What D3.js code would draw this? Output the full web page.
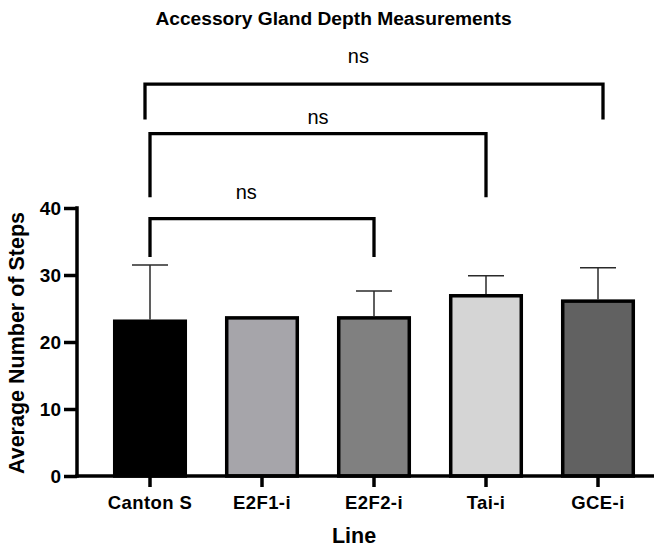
<!DOCTYPE html>
<html>
<head>
<meta charset="utf-8">
<script src="https://cdn.jsdelivr.net/npm/d3@7"></script>
<style>
  body { margin: 0; background: #fff; }
  svg { display: block; font-family: "Liberation Sans", Arial, Helvetica, sans-serif; }
</style>
</head>
<body>
<div id="chart"></div>
<script>
'use strict';

// data
var lines = ["Canton S", "E2F1-i", "E2F2-i", "Tai-i", "GCE-i"];
var means = [23.1, 23.6, 23.6, 26.9, 26.1];
var sds = [8.4, 0, 4.0, 3.0, 5.0];
var yTicks = [0, 10, 20, 30, 40];

// multiple comparisons
var compFrom = ["Canton S", "Canton S", "Canton S"];
var compTo = ["GCE-i", "Tai-i", "E2F2-i"];
var compLabel = ["ns", "ns", "ns"];

var fills = ["#000000", "#a6a5aa", "#808080", "#d5d5d5", "#616161"];

// bracket placement in y units: bar height, leg end, label baseline, label position along bracket
var bracketLayout = [
  { top: 58.5, leg: 53.2, text: 61.6, at: 0.466, spread: 5 },
  { top: 51.1, leg: 41.6, text: 52.6, at: 0.5, spread: 0 },
  { top: 38.4, leg: 32.7, text: 41.4, at: 0.43, spread: 0 }
];

var width = 667, height = 550;
var margin = { left: 77, right: 13, top: 208, bottom: 74 };
var FONT = "Liberation Sans, Arial, sans-serif";

var svg = d3.select("#chart").append("svg")
    .attr("width", width)
    .attr("height", height);

var x = d3.scaleBand()
    .domain(lines)
    .range([94, 654])
    .paddingInner(0.37)
    .paddingOuter(0.185);

var y = d3.scaleLinear()
    .domain([0, 40])
    .range([height - margin.bottom, margin.top]);

function cx(name) { return x(name) + x.bandwidth() / 2; }

var data = lines.map(function(d, i) {
  return { name: d, mean: means[i], sd: sds[i], fill: fills[i] };
});

// bars
svg.append("g")
  .selectAll("rect")
  .data(data)
  .join("rect")
    .attr("x", function(d) { return x(d.name); })
    .attr("y", function(d) { return y(d.mean); })
    .attr("width", x.bandwidth())
    .attr("height", function(d) { return y(0) - y(d.mean); })
    .attr("fill", function(d) { return d.fill; })
    .attr("stroke", "#000")
    .attr("stroke-width", 3.5);

// error bars (upper only)
var err = svg.append("g")
    .attr("stroke", "#2a2a2a")
    .attr("stroke-width", 1.5)
  .selectAll("g")
  .data(data.filter(function(d) { return d.sd > 0; }))
  .join("g");

err.append("line")
    .attr("x1", function(d) { return cx(d.name); })
    .attr("x2", function(d) { return cx(d.name); })
    .attr("y1", function(d) { return y(d.mean) - 1.75; })
    .attr("y2", function(d) { return y(d.mean + d.sd); });

err.append("line")
    .attr("x1", function(d) { return cx(d.name) - 18; })
    .attr("x2", function(d) { return cx(d.name) + 18; })
    .attr("y1", function(d) { return y(d.mean + d.sd); })
    .attr("y2", function(d) { return y(d.mean + d.sd); });

// y axis
var yAxis = svg.append("g")
    .attr("transform", "translate(" + margin.left + ",0)")
    .call(d3.axisLeft(y).tickValues(yTicks).tickSize(13).tickSizeOuter(0).tickPadding(3));
yAxis.select(".domain").attr("stroke-width", 3.5).attr("stroke", "#000")
    .attr("d", "M0," + (y(0) + 1.75) + "V" + (y(40) - 1.75));
yAxis.selectAll(".tick line").attr("stroke-width", 3.5).attr("stroke", "#000");
yAxis.selectAll(".tick text")
    .attr("x", -16)
    .attr("dy", "0.36em")
    .style("font-size", "19px")
    .style("font-weight", "bold")
    .style("font-family", FONT)
    .attr("fill", "#000");

// x axis
var xAxis = svg.append("g")
    .attr("transform", "translate(0," + y(0) + ")")
    .call(d3.axisBottom(x).tickSize(11).tickSizeOuter(0));
xAxis.select(".domain").attr("stroke-width", 3.5).attr("stroke", "#000")
    .attr("d", "M" + (margin.left - 1.75) + ",0H" + x.range()[1]);
xAxis.selectAll(".tick line").attr("stroke-width", 3.5).attr("stroke", "#000");
xAxis.selectAll(".tick text")
    .attr("y", 33)
    .attr("dy", 0)
    .style("font-size", "18.5px")
    .style("font-weight", "bold")
    .style("letter-spacing", "0.4px")
    .style("font-family", FONT)
    .attr("fill", "#000");

// significance brackets
var brackets = svg.append("g")
  .selectAll("g")
  .data(compFrom.map(function(f, i) {
    return { from: f, to: compTo[i], label: compLabel[i], lay: bracketLayout[i] };
  }))
  .join("g");

brackets.append("path")
    .attr("fill", "none")
    .attr("stroke", "#000")
    .attr("stroke-width", 3.3)
    .attr("d", function(d) {
      var x1 = cx(d.from) - d.lay.spread, x2 = cx(d.to) + d.lay.spread;
      return "M" + x1 + "," + y(d.lay.leg) + "V" + y(d.lay.top) + "H" + x2 + "V" + y(d.lay.leg);
    });

brackets.append("text")
    .attr("x", function(d) {
      var x1 = cx(d.from) - d.lay.spread, x2 = cx(d.to) + d.lay.spread;
      return x1 + (x2 - x1) * d.lay.at;
    })
    .attr("y", function(d) { return y(d.lay.text); })
    .attr("text-anchor", "middle")
    .style("font-size", "20px")
    .text(function(d) { return d.label; });

// titles
svg.append("text")
    .attr("x", width / 2)
    .attr("y", 25)
    .attr("text-anchor", "middle")
    .style("font-size", "19.2px")
    .style("font-weight", "bold")
    .text("Accessory Gland Depth Measurements");

svg.append("text")
    .attr("x", 354)
    .attr("y", 543)
    .attr("text-anchor", "middle")
    .style("font-size", "21.5px")
    .style("font-weight", "bold")
    .text("Line");

svg.append("text")
    .attr("transform", "translate(24," + (y(20) + 1) + ") rotate(-90)")
    .attr("text-anchor", "middle")
    .style("font-size", "21.5px")
    .style("font-weight", "bold")
    .text("Average Number of Steps");
</script>
</body>
</html>
